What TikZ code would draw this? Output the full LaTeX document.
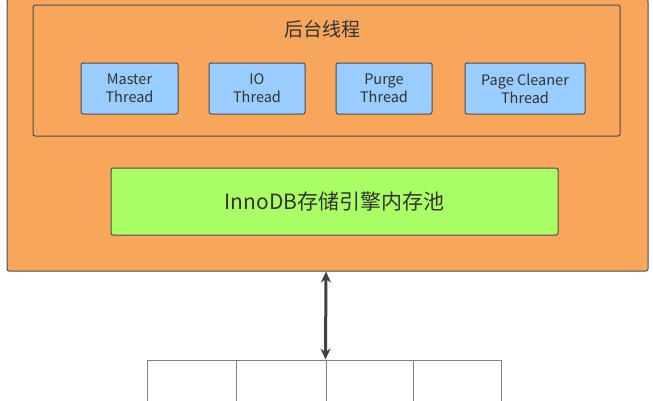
\documentclass[tikz,border=0pt]{standalone}
\usepackage{fontspec}
\setmainfont{Noto Sans CJK SC}
\usetikzlibrary{arrows.meta,positioning}
\definecolor{engine}{HTML}{F8A65C}
\definecolor{thread}{HTML}{99CCFF}
\definecolor{pool}{HTML}{AAFF66}
\tikzset{
  panel/.style={draw=black!70,line width=1pt,fill=engine,rounded corners=2pt,inner sep=0pt},
  threadbox/.style={draw=black!70,line width=1pt,fill=thread,rounded corners=2pt,minimum height=51pt,align=center,font=\fontsize{14.5}{18}\selectfont,text=black!80},
  filebox/.style={draw=black!50,line width=1pt,fill=white,minimum height=60pt,inner sep=0pt}
}
\begin{document}
\begin{tikzpicture}[x=1pt,y=-1pt]
\useasboundingbox (0,0) rectangle (653,400);
\begin{scope}
    \node [panel,minimum width=641pt,minimum height=272pt] (engine) at (327.5,135) {};
    \node [panel,minimum width=587pt,minimum height=131pt] (back) at (326.5,70.5) {};
    \node [font=\fontsize{19}{22}\selectfont,text=black!80] (title) at (322,29) {后台线程};

    \node [threadbox,minimum width=97pt] (master) at (129.5,88.5) {Master\\Thread};
    \node [threadbox,minimum width=96pt] (io) at (257,88.5) {IO\\Thread};
    \node [threadbox,minimum width=96pt] (purge) at (384,88.5) {Purge\\Thread};
    \node [threadbox,minimum width=120pt] (cleaner) at (525,88.5) {Page Cleaner\\Thread};

    \node [draw=black!70,line width=1pt,fill=pool,rounded corners=2pt,minimum width=447pt,minimum height=67pt,font=\fontsize{21}{24}\selectfont,text=black!80] (pool) at (334.5,201.5) {InnoDB存储引擎内存池};

    \node [filebox,minimum width=89pt] (f1) at (191.5,390) {};
    \node [filebox,minimum width=90pt] (f2) at (281,390) {};
    \node [filebox,minimum width=87pt] (f3) at (369.5,390) {};
    \node [filebox,minimum width=88pt] (f4) at (457,390) {};

    \coordinate (top) at (engine.south -| 326,0);
    \coordinate (bot) at (f3.north west);
    \draw [line width=3pt,black!75,{Stealth[length=11pt,width=10pt]}-{Stealth[length=11pt,width=10pt]}] (top) -- (bot);
\end{scope}
\end{tikzpicture}
\end{document}
